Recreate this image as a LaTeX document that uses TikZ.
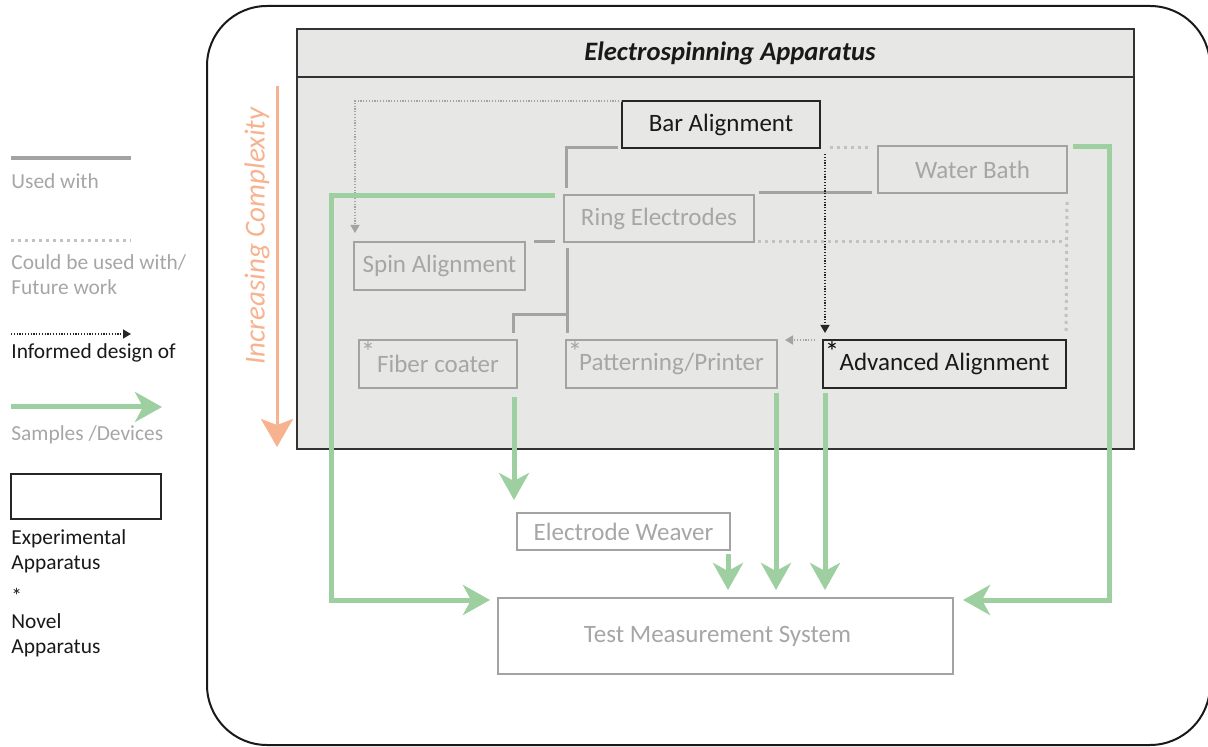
\documentclass[tikz,border=0pt]{standalone}
\usepackage{fontspec}
\setmainfont{Carlito}
\usepackage{tikz}
\usetikzlibrary{arrows.meta, positioning}

\definecolor{appbg}{HTML}{E7E7E6}
\definecolor{linegray}{HTML}{A3A3A3}
\definecolor{dotgray}{HTML}{C2C2C2}
\definecolor{textgray}{HTML}{A6A6A6}
\definecolor{samplegreen}{HTML}{9DCFA0}
\definecolor{complexorange}{HTML}{F7B28F}

\tikzset{
  nodefont/.style={font=\fontsize{12.5}{14}\selectfont},
  legendfont/.style={font=\fontsize{10.7}{12.5}\selectfont, inner sep=0pt},
  expbox/.style={draw=black!85, line width=1pt, text=black!90, inner sep=0pt, outer sep=0pt, nodefont},
  devbox/.style={draw=linegray, line width=0.9pt, text=textgray, inner sep=0pt, outer sep=0pt, nodefont},
  novel/.style={label={[anchor=north west, inner sep=0.8pt, font=\fontsize{14}{14}\selectfont, text=#1]north west:*}},
  usedwith/.style={draw=linegray, line width=1.5pt},
  couldbe/.style={draw=dotgray, line width=1.5pt, dash pattern=on 1.5pt off 2pt},
  informed/.style={draw=black!85, line width=0.75pt, dash pattern=on 0.6pt off 0.8pt, -{Triangle[length=4pt,width=4.5pt]}},
  informedgray/.style={informed, draw=linegray},
  sampleline/.style={draw=samplegreen, line width=2.5pt, -{Stealth[length=13.5pt,width=15pt,inset=4pt]}},
  complexity/.style={draw=complexorange, line width=1.5pt, -{Stealth[length=14pt,width=16pt,inset=3pt]}}
}

\begin{document}
\begin{tikzpicture}[x=0.5pt, y=-0.5pt]
    \useasboundingbox (0,0) rectangle (1208,747);
    \clip (0,0) rectangle (1208,747);

    % Frames
    \draw[black!90, line width=1pt, rounded corners=30pt] (207,6) rectangle (1210,745);
    \draw[black!80, line width=1pt, fill=appbg] (297,29) rectangle (1134,449);
    \draw[black!80, line width=1pt] (297,77) -- (1134,77);
    \node[font=\fontsize{13.3}{15}\selectfont\bfseries\itshape, text=black!90] (title) at (730,53) {Electrospinning Apparatus};

    % Complexity arrow
    \draw[complexity] (277,86) -- (277,447);
    \node[rotate=90, text=complexorange, font=\fontsize{14.5}{16}\selectfont\itshape] (cplx) at (257,236) {Increasing Complexity};

    % Apparatus
    \node[expbox, minimum width=99pt, minimum height=23.5pt] (bar) at (721,124.5) {Bar Alignment};
    \node[devbox, minimum width=94.5pt, minimum height=23.5pt] (water) at (972.5,169.5) {Water Bath};
    \node[devbox, minimum width=95pt, minimum height=23.5pt] (ring) at (659,218.5) {Ring Electrodes};
    \node[devbox, minimum width=85.5pt, minimum height=24pt] (spin) at (439.5,266) {Spin Alignment};
    \node[devbox, novel=textgray, minimum width=79pt, minimum height=24pt] (fiber) at (438,364) {Fiber coater};
    \node[devbox, novel=textgray, minimum width=105.5pt, minimum height=24pt] (pattern) at (671.5,364) {Patterning/Printer};
    \node[expbox, novel=black, minimum width=121.5pt, minimum height=24pt] (adv) at (944.5,364) {Advanced Alignment};
    \node[devbox, minimum width=106.5pt, minimum height=18.5pt] (weaver) at (623.5,531.5) {Electrode Weaver};
    \node[devbox, minimum width=227.5pt, minimum height=38pt] (test) at (725.5,636) {Test Measurement System\hspace*{8pt}};

    % Used with
    \draw[usedwith] ([xshift=-2pt]bar.south west) -| ([xshift=1pt,yshift=3.5pt]ring.north west);
    \draw[usedwith] ([xshift=4.5pt]spin.north east) -- ([xshift=-4.5pt]ring.south west);
    \draw[usedwith] ([xshift=1.5pt,yshift=-3pt]ring.south west) -- ([xshift=0.5pt,yshift=3.5pt]pattern.north west);
    \draw[usedwith] ([xshift=0.5pt,yshift=12.5pt]pattern.north west) -| ([xshift=-2pt,yshift=3.5pt]fiber.north east);
    \draw[usedwith] ([xshift=2.5pt]ring.north east |- water.south) -- ([xshift=-3pt]water.south west);

    % Could be used with
    \draw[couldbe] ([xshift=5pt]bar.south east) -- ([xshift=-3pt]water.north west |- bar.south);
    \draw[couldbe] ([xshift=2pt]ring.south east) -- (ring.south east -| adv.north east);
    \draw[couldbe] ([yshift=-4.5pt]water.south east) -- ([yshift=3.5pt]adv.north east);

    % Informed design of
    \draw[informed] ([xshift=1pt,yshift=-3pt]adv.north west |- bar.south) -- ([xshift=1pt,yshift=3.5pt]adv.north west);
    \draw[informedgray] (bar.north west) -| ([xshift=0.5pt,yshift=4.5pt]spin.north west);
    \draw[informedgray] ([xshift=-4pt]adv.north west) -- ([xshift=4pt]pattern.north east);

    % Samples / devices
    \draw[sampleline] ([xshift=-4.5pt,yshift=-0.5pt]ring.north west) -| ([xshift=-83.5pt,yshift=-1pt]test.north west) -- ([xshift=-4pt,yshift=-1pt]test.north west);
    \draw[sampleline] ([xshift=3pt,yshift=-0.5pt]water.north east) -| ([xshift=78pt,yshift=-1pt]test.north east) -- ([xshift=5pt,yshift=-1pt]test.north east);
    \draw[sampleline] ([xshift=-1.5pt,yshift=-4.5pt]fiber.south east) -- ([xshift=-1.5pt,yshift=6.5pt]weaver.north west);
    \draw[sampleline] ([xshift=-1pt,yshift=-2pt]weaver.south east) -- ([xshift=-1pt,yshift=4pt]test.north -| weaver.south east);
    \draw[sampleline] ([xshift=-0.5pt,yshift=-2.5pt]pattern.south east) -- ([xshift=-0.5pt,yshift=4pt]test.north -| pattern.south east);
    \draw[sampleline] ([xshift=1pt,yshift=-2.5pt]adv.south west) -- ([xshift=1pt,yshift=4pt]test.north -| adv.south west);

    % Legend
    \draw[usedwith, line width=2pt] (11,158) -- (131,158);
    \node[legendfont, text=textgray, anchor=west] (lused) at (11,181) {Used with};
    \draw[couldbe] (11,241) -- (131,241);
    \node[legendfont, text=textgray, anchor=west, align=left] (lcould) at (11,275) {Could be used with/\\Future work};
    \draw[informed] (11,334) -- (131,334);
    \node[legendfont, text=black!90, anchor=west] (linformed) at (11,353) {Informed design of};
    \draw[sampleline] (11,407) -- (162,407);
    \node[legendfont, text=textgray, anchor=west] (lsamples) at (11,435) {Samples /Devices};
    \draw[black!85, line width=1pt] (11,474) rectangle (161,519);
    \node[legendfont, text=black!90, anchor=west, align=left] (lexp) at (11,551) {Experimental\\Apparatus};
    \node[legendfont, text=black!90, anchor=west, align=left] (lnovel) at (11,623) {*\\Novel\\Apparatus};
\end{tikzpicture}
\end{document}
